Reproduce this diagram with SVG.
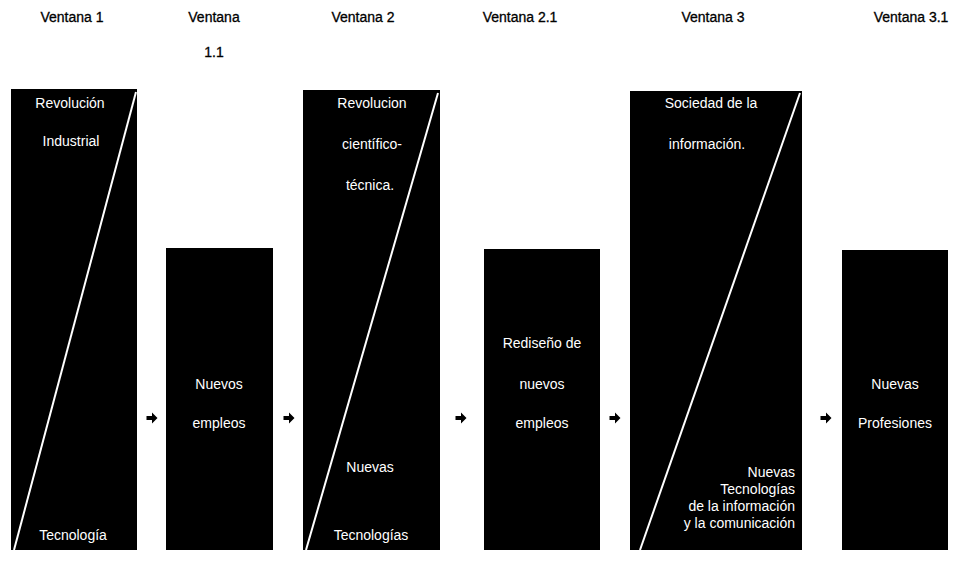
<svg xmlns="http://www.w3.org/2000/svg" width="958" height="563" viewBox="0 0 958 563">
  <style>
    .hdr { font-family: "Liberation Sans", Arial, sans-serif; font-size: 14px; fill: #000; stroke: #000; stroke-width: 0.3; text-anchor: middle; }
    .box { fill: #000; }
    .lbl { font-family: "Liberation Sans", Arial, sans-serif; font-size: 14px; fill: #fff; text-anchor: middle; }
    .lblr { font-family: "Liberation Sans", Arial, sans-serif; font-size: 14px; fill: #fff; text-anchor: end; }
    .diag { stroke: #fff; stroke-width: 2; fill: none; }
  </style>
  <defs>
    <path id="arrow" d="M-5.5,-2 H0 V-5.5 L5.5,0 L0,5.5 V2 H-5.5 Z" fill="#000"/>
  </defs>
  <rect width="958" height="563" fill="#fff"/>

  <!-- column headers -->
  <g id="headers">
    <text class="hdr" x="72" y="22">Ventana 1</text>
    <text class="hdr" x="214" y="22">Ventana</text>
    <text class="hdr" x="214" y="57">1.1</text>
    <text class="hdr" x="363" y="22">Ventana 2</text>
    <text class="hdr" x="520" y="22">Ventana 2.1</text>
    <text class="hdr" x="713" y="22">Ventana 3</text>
    <text class="hdr" x="911" y="22">Ventana 3.1</text>
  </g>

  <g id="ventana1">
    <rect class="box" x="11" y="89" width="126" height="461"/>
    <line class="diag" x1="136" y1="92" x2="14" y2="550"/>
    <text class="lbl" x="70" y="108">Revolución</text>
    <text class="lbl" x="71" y="146">Industrial</text>
    <text class="lbl" x="73" y="540">Tecnología</text>
  </g>

  <g id="ventana1_1">
    <rect class="box" x="166" y="248" width="107" height="302"/>
    <text class="lbl" x="219" y="389">Nuevos</text>
    <text class="lbl" x="219" y="428">empleos</text>
  </g>

  <g id="ventana2">
    <rect class="box" x="303" y="90" width="137" height="460"/>
    <line class="diag" x1="438" y1="93" x2="306" y2="550"/>
    <text class="lbl" x="372" y="108">Revolucion</text>
    <text class="lbl" x="372" y="149">científico-</text>
    <text class="lbl" x="370" y="190">técnica.</text>
    <text class="lbl" x="370" y="472">Nuevas</text>
    <text class="lbl" x="371" y="540">Tecnologías</text>
  </g>

  <g id="ventana2_1">
    <rect class="box" x="484" y="249" width="116" height="301"/>
    <text class="lbl" x="542" y="348">Rediseño de</text>
    <text class="lbl" x="542" y="389">nuevos</text>
    <text class="lbl" x="542" y="428">empleos</text>
  </g>

  <g id="ventana3">
    <rect class="box" x="630" y="91" width="172" height="459"/>
    <line class="diag" x1="800" y1="93" x2="640" y2="550"/>
    <text class="lbl" x="711" y="108">Sociedad de la</text>
    <text class="lbl" x="707" y="149">información.</text>
    <text class="lblr" x="795" y="477">Nuevas</text>
    <text class="lblr" x="795" y="494">Tecnologías</text>
    <text class="lblr" x="795" y="511">de la información</text>
    <text class="lblr" x="795" y="528">y la comunicación</text>
  </g>

  <g id="ventana3_1">
    <rect class="box" x="842" y="250" width="106" height="300"/>
    <text class="lbl" x="895" y="389">Nuevas</text>
    <text class="lbl" x="895" y="428">Profesiones</text>
  </g>

  <!-- arrows between windows -->
  <g id="connectors">
    <use href="#arrow" x="152" y="418"/>
    <use href="#arrow" x="289" y="418"/>
    <use href="#arrow" x="461" y="418"/>
    <use href="#arrow" x="615" y="418"/>
    <use href="#arrow" x="826" y="418"/>
  </g>
</svg>
